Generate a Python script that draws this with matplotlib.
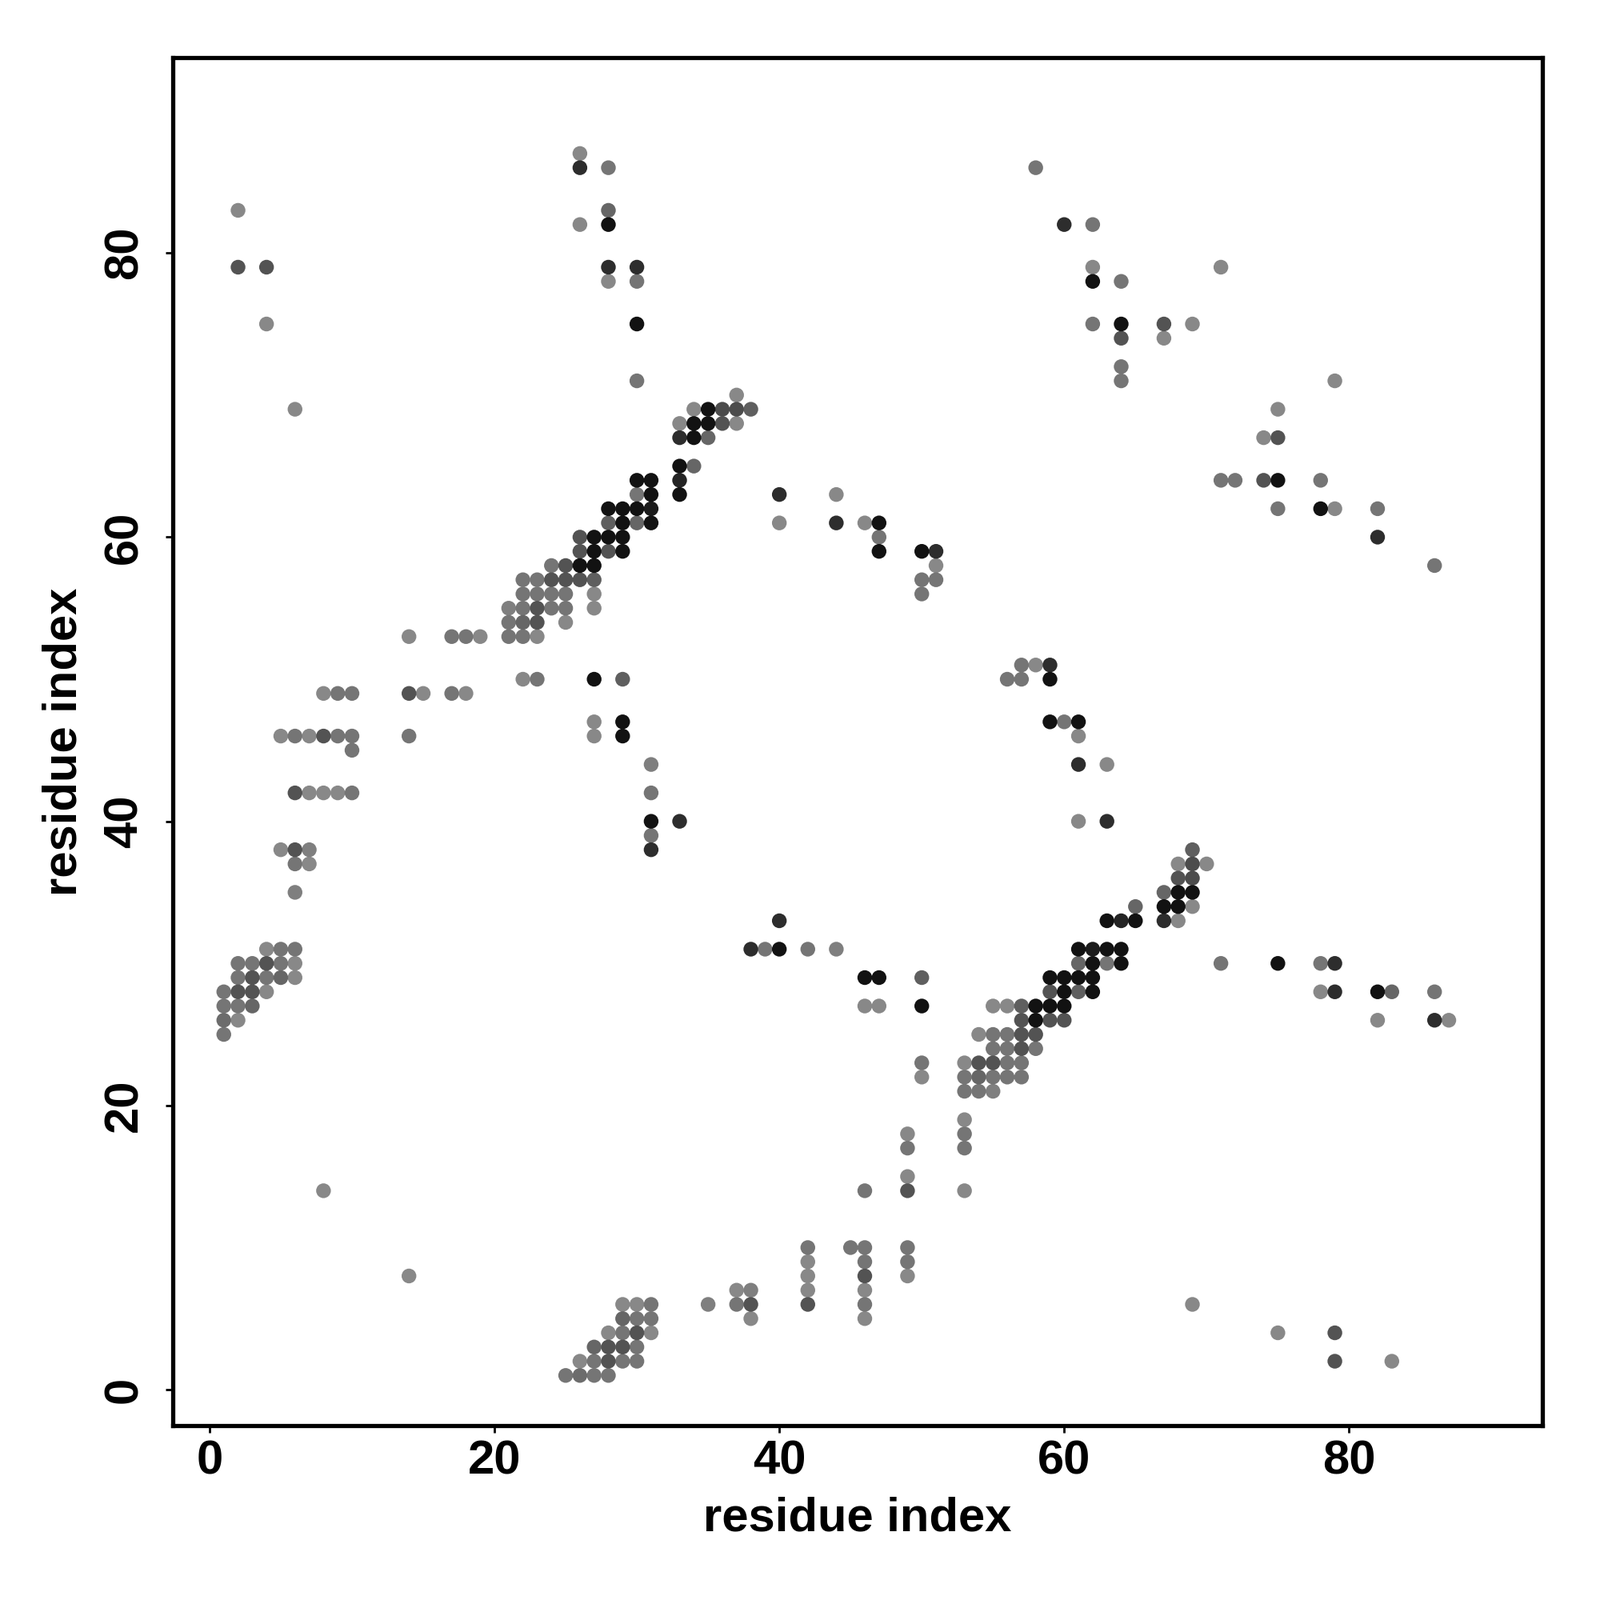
import matplotlib
matplotlib.use("Agg")
import matplotlib.pyplot as plt
from matplotlib.colors import LinearSegmentedColormap
import numpy as np

# contact map, upper triangle only (i < j); the plot is symmetric
# strength: 0 = weak (light grey) ... 1 = strong (black)
res_i = [
    1, 1, 2, 1, 2, 3, 1, 2, 3, 4,
    2, 3, 4, 5, 6, 2, 3, 4, 5, 6,
    4, 5, 6, 6, 6, 7, 5, 6, 7,
    6, 7, 8, 9, 10, 10, 5, 6, 7, 8, 9, 10,
    8, 9, 10, 14, 14, 15, 17, 18, 22, 23,
    14, 17, 18, 19, 21, 22, 23,
    21, 22, 23, 25,
    21, 22, 23, 24, 25, 27,
    22, 23, 24, 25, 27,
    22, 23, 24, 25, 26, 27,
    24, 25, 26, 27,
    26, 27, 28, 29,
    26, 27, 28, 29,
    28, 29, 30, 31,
    28, 29, 30, 31,
    30, 31, 33,
    30, 31, 33,
    33, 34,
    33, 34, 35,
    33, 34, 35, 36, 37,
    34, 35, 36, 37, 38,
    37,
    40, 40, 44, 44, 46, 47, 47, 47,
    50, 51, 51, 50, 51, 50,
    27, 27, 27, 29, 29, 29,
    31, 31, 31, 31, 31, 33,
    30, 30, 30, 30,
    28, 28, 28, 28, 28,
    26, 26, 26,
    2, 4, 2, 4, 6, 8,
    58, 60, 62, 62, 62, 64, 62, 64, 67, 69, 64, 67, 64, 64, 71,
]
res_j = [
    25, 26, 26, 27, 27, 27, 28, 28, 28, 28,
    29, 29, 29, 29, 29, 30, 30, 30, 30, 30,
    31, 31, 31, 35, 37, 37, 38, 38, 38,
    42, 42, 42, 42, 42, 45, 46, 46, 46, 46, 46, 46,
    49, 49, 49, 46, 49, 49, 49, 49, 50, 50,
    53, 53, 53, 53, 53, 53, 53,
    54, 54, 54, 54,
    55, 55, 55, 55, 55, 55,
    56, 56, 56, 56, 56,
    57, 57, 57, 57, 57, 57,
    58, 58, 58, 58,
    59, 59, 59, 59,
    60, 60, 60, 60,
    61, 61, 61, 61,
    62, 62, 62, 62,
    63, 63, 63,
    64, 64, 64,
    65, 65,
    67, 67, 67,
    68, 68, 68, 68, 68,
    69, 69, 69, 69, 69,
    70,
    61, 63, 61, 63, 61, 61, 60, 59,
    59, 59, 58, 57, 57, 56,
    46, 47, 50, 46, 47, 50,
    38, 39, 40, 42, 44, 40,
    71, 75, 78, 79,
    78, 79, 82, 83, 86,
    82, 86, 87,
    79, 79, 83, 75, 69, 14,
    86, 82, 82, 79, 78, 78, 75, 75, 75, 75, 74, 74, 72, 71, 79,
]
strength = [
    0.25, 0.35, 0.05, 0.25, 0.25, 0.4, 0.25, 0.55, 0.55, 0.05,
    0.25, 0.55, 0.25, 0.4, 0.05, 0.25, 0.25, 0.55, 0.25, 0.05,
    0.05, 0.25, 0.25, 0.15, 0.25, 0.05, 0.05, 0.55, 0.15,
    0.55, 0.05, 0.05, 0.05, 0.25, 0.25, 0.05, 0.25, 0.05, 0.55, 0.25, 0.25,
    0.05, 0.25, 0.25, 0.25, 0.55, 0.05, 0.25, 0.05, 0.05, 0.25,
    0.05, 0.25, 0.25, 0.05, 0.25, 0.25, 0.05,
    0.25, 0.4, 0.55, 0.05,
    0.15, 0.25, 0.55, 0.25, 0.25, 0.05,
    0.25, 0.25, 0.25, 0.25, 0.05,
    0.25, 0.25, 0.55, 0.55, 0.55, 0.45,
    0.25, 0.55, 0.95, 0.95,
    0.55, 0.95, 0.55, 0.95,
    0.55, 0.95, 0.95, 0.95,
    0.45, 0.95, 0.4, 0.95,
    0.95, 0.95, 0.95, 0.9,
    0.25, 0.95, 0.95,
    0.95, 0.95, 0.85,
    0.95, 0.4,
    0.8, 0.95, 0.4,
    0.05, 0.95, 0.95, 0.55, 0.05,
    0.05, 0.95, 0.6, 0.6, 0.45,
    0.05,
    0.05, 0.8, 0.8, 0.05, 0.05, 0.95, 0.25, 0.95,
    0.95, 0.8, 0.05, 0.25, 0.25, 0.25,
    0.05, 0.05, 0.95, 0.95, 0.95, 0.45,
    0.8, 0.25, 0.95, 0.25, 0.15, 0.8,
    0.25, 0.95, 0.25, 0.8,
    0.05, 0.8, 0.95, 0.4, 0.25,
    0.05, 0.8, 0.05,
    0.55, 0.55, 0.05, 0.05, 0.05, 0.05,
    0.25, 0.8, 0.25, 0.05, 0.95, 0.25, 0.25, 0.95, 0.55, 0.05, 0.55, 0.05, 0.25, 0.25, 0.05,
]

plt.rcParams['font.family'] = ['Liberation Sans', 'DejaVu Sans']
plt.rcParams['font.weight'] = 'bold'

# mirror to get the full symmetric map
x = np.array(res_i + res_j)
y = np.array(res_j + res_i)
s = np.array(strength + strength)
order = np.argsort(s)

cmap = LinearSegmentedColormap.from_list('grey', ['#8c8c8c', '#6e6e6e', '#444444', '#0a0a0a'])

fig = plt.figure(figsize=(10, 10), dpi=200)
ax = fig.add_axes([0.108, 0.109, 0.856, 0.855])
ax.scatter(x[order], y[order], c=s[order], cmap=cmap, vmin=0, vmax=1,
           s=44, linewidths=0)

ax.set_xlim(-2.58, 93.57)
ax.set_ylim(-2.53, 93.75)
ax.set_xticks([0, 20, 40, 60, 80])
ax.set_yticks([0, 20, 40, 60, 80])
for sp in ax.spines.values():
    sp.set_linewidth(1.9)
ax.tick_params(direction='out', length=3.2, width=1.0, labelsize=21.5, pad=3)
ax.tick_params(axis='y', pad=8.5)
for lab in ax.get_yticklabels():
    lab.set_rotation(90)
    lab.set_va('center')
ax.set_xlabel('residue index', fontsize=21.5, fontweight='bold', labelpad=6)
ax.set_ylabel('residue index', fontsize=21.5, fontweight='bold', labelpad=7.5)

fig.savefig('out.png', dpi=200, facecolor='white')
